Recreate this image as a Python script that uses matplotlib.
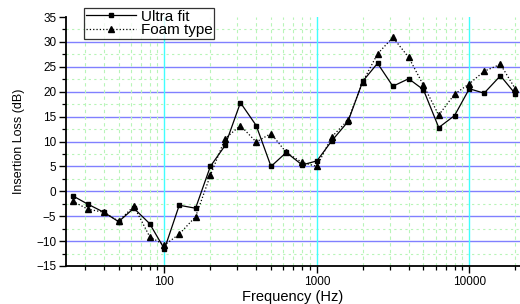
import matplotlib
matplotlib.use('Agg')
import matplotlib.pyplot as plt
import numpy as np
from matplotlib.ticker import LogLocator, MultipleLocator, FixedLocator, NullFormatter

plt.rcParams['font.family'] = ['Liberation Sans', 'DejaVu Sans']

# third-octave band centre frequencies (Hz)
freq = [25, 31.5, 40, 50, 63, 80, 100, 125, 160, 200, 250, 315, 400, 500, 630,
        800, 1000, 1250, 1600, 2000, 2500, 3150, 4000, 5000, 6300, 8000,
        10000, 12500, 16000, 20000]

# insertion loss (dB)
ultra_fit = [-0.9, -2.6, -4.2, -6.1, -3.4, -6.5, -11.6, -2.8, -3.4, 5.0, 9.2,
             17.8, 13.2, 5.0, 7.8, 5.3, 6.1, 10.1, 14.0, 22.1, 25.7, 21.1,
             22.6, 20.4, 12.8, 15.2, 20.6, 19.7, 23.2, 19.6]
foam_type = [-2.0, -3.6, -4.2, -6.0, -3.0, -9.1, -10.8, -8.6, -5.1, 3.2, 10.6,
             13.2, 9.9, 11.6, 7.8, 5.8, 5.0, 10.9, 14.3, 22.0, 27.6, 30.9,
             26.9, 21.3, 15.3, 19.5, 21.6, 24.1, 25.5, 20.6]

fig = plt.figure(figsize=(5.2, 3.04), dpi=100)
ax = fig.add_axes([66/520, 1-266/304, 1-66/520, (266-17)/304])

ax.plot(freq, ultra_fit, '-', color='black', lw=0.9, marker='s', ms=3.2,
        label='Ultra fit', zorder=5)
ax.plot(freq, foam_type, ':', color='black', lw=0.9, marker='^', ms=3.8,
        label='Foam type', zorder=5)

ax.set_xscale('log')
ax.set_xlim(22.6, 21500)
ax.set_ylim(-15, 35)

ax.xaxis.set_major_locator(FixedLocator([100, 1000, 10000]))
ax.xaxis.set_minor_locator(LogLocator(base=10, subs=np.arange(2, 10)))
ax.xaxis.set_minor_formatter(NullFormatter())
ax.set_xticklabels(['100', '1000', '10000'])
ax.yaxis.set_major_locator(MultipleLocator(5))
ax.yaxis.set_minor_locator(MultipleLocator(2.5))

# grids
for v in range(-10, 35, 5):
    ax.axhline(v, color='#8080ff', lw=1.0, zorder=1)
for v in np.arange(-12.5, 35, 5):
    ax.axhline(v, color='#b8f5b8', lw=0.8, ls=(0, (2, 3)), zorder=1)
for f in [100, 1000, 10000]:
    ax.axvline(f, color='#40ffff', lw=1.0, zorder=1)
minor_f = [m * 10**d for d in range(1, 5) for m in range(2, 10)]
for f in minor_f:
    if 22.6 < f < 21500:
        ax.axvline(f, color='#b8f5b8', lw=0.8, ls=(0, (3, 3)), zorder=1)

for s in ['top', 'right']:
    ax.spines[s].set_visible(False)
ax.spines['left'].set_linewidth(1.3)
ax.spines['bottom'].set_linewidth(1.3)

ax.tick_params(which='major', direction='out', length=5, width=1.0,
               labelsize=8.5, colors='black', pad=2)
ax.tick_params(which='minor', direction='out', length=3, width=0.9)

ax.set_xlabel('Frequency (Hz)', fontsize=10.5, labelpad=2)
ax.set_ylabel('Insertion Loss (dB)', fontsize=9, labelpad=8)

leg = ax.legend(loc='upper left', bbox_to_anchor=(18/454, 1.035), fontsize=11,
                frameon=True, fancybox=False, edgecolor='black',
                borderpad=0.1, handlelength=3.3, handletextpad=0.3,
                labelspacing=-0.05, borderaxespad=0)
leg.get_frame().set_linewidth(0.9)
leg.set_zorder(10)

fig.savefig('out.png', dpi=100)
